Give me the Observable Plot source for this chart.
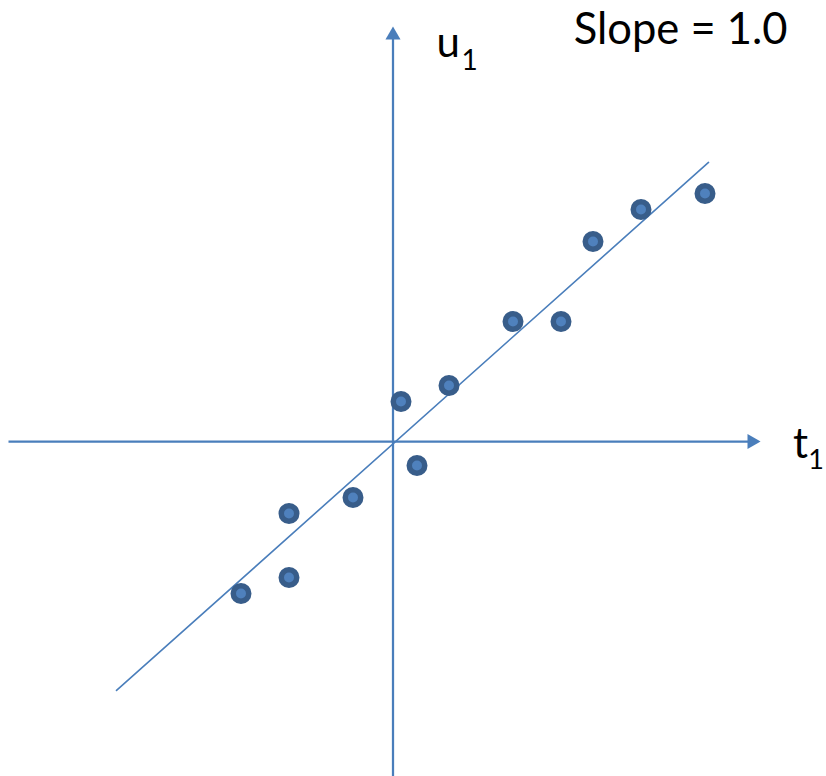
<!DOCTYPE html>
<html>
<head>
<meta charset="utf-8">
<script src="https://cdn.jsdelivr.net/npm/d3@7"></script>
<script src="https://cdn.jsdelivr.net/npm/@observablehq/plot@0.6"></script>
<style>
  html, body { margin: 0; padding: 0; background: #fff; }
</style>
</head>
<body>
<div id="chart"></div>
<script>
// Scores (t1, u1)
const t1 = [-9.5, -6.5, -6.5, -2.5, 0.5, 1.5, 3.5, 7.5, 10.5, 12.5, 15.5, 19.5];
const u1 = [-9.5, -4.5, -8.5, -3.5, 2.5, -1.5, 3.5, 7.5, 7.5, 12.5, 14.5, 15.5];

// Fitted line end points
const fitT = [-17.28, 19.72];
const fitU = [-15.56, 17.44];

// Axis extents
const xAxisRange = [-24.0, 22.6];
const yAxisRange = [-21.0, 25.6];

// Labels
const slopeLabel = "Slope = 1.0";
const xLabel = "t";
const yLabel = "u";
const subLabel = "1";

const points = t1.map((t, i) => ({t, u: u1[i]}));
const fit = fitT.map((t, i) => ({t, u: fitU[i]}));

const blue = "#4a7ebb";
const font = "Lato, 'Open Sans', sans-serif";

const chart = Plot.plot({
  width: 826,
  height: 776,
  margin: 0,
  x: {domain: [-392.5 / 16, (826 - 392.5) / 16], axis: null},
  y: {domain: [-(776 - 441) / 16, 441 / 16], axis: null},
  style: {fontFamily: font, background: "#fff"},
  marks: [
    // axes
    Plot.ruleY([0], {x1: xAxisRange[0], x2: xAxisRange[1], stroke: blue, strokeWidth: 2.25}),
    Plot.ruleX([0], {y1: yAxisRange[0], y2: yAxisRange[1], stroke: blue, strokeWidth: 2.25}),
    // arrow heads
    Plot.dot([{t: 22.43, u: 0}], {x: "t", y: "u", symbol: "triangle", r: 5.6, rotate: 90, fill: blue, stroke: "none"}),
    Plot.dot([{t: 0, u: 25.39}], {x: "t", y: "u", symbol: "triangle", r: 5.6, fill: blue, stroke: "none"}),
    // fitted line
    Plot.line(fit, {x: "t", y: "u", stroke: blue, strokeWidth: 1.6}),
    // points
    Plot.dot(points, {x: "t", y: "u", r: 7.75, fill: "#4f81bd", stroke: "#385d8a", strokeWidth: 5.5}),
    // labels
    Plot.text([yLabel], {x: 2.72, y: 24.06, textAnchor: "start", lineAnchor: "bottom", fontSize: 42, fill: "#000"}),
    Plot.text([subLabel], {x: 4.28, y: 23.19, textAnchor: "start", lineAnchor: "bottom", fontSize: 28, fill: "#000"}),
    Plot.text([xLabel], {x: 25.0, y: -1.06, textAnchor: "start", lineAnchor: "bottom", fontSize: 42, fill: "#000"}),
    Plot.text([subLabel], {x: 25.95, y: -1.69, textAnchor: "start", lineAnchor: "bottom", fontSize: 27, fill: "#000"}),
    Plot.text([slopeLabel], {x: 11.3, y: 24.875, textAnchor: "start", lineAnchor: "bottom", fontSize: 43.5, fill: "#000"})
  ]
});
document.getElementById("chart").appendChild(chart);
</script>
</body>
</html>
